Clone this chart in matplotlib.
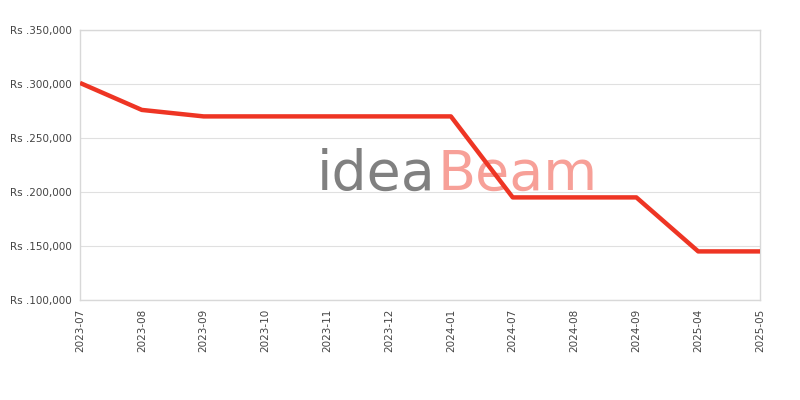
import matplotlib.pyplot as plt

months = ['2023-07', '2023-08', '2023-09', '2023-10', '2023-11', '2023-12',
          '2024-01', '2024-07', '2024-08', '2024-09', '2025-04', '2025-05']
prices = [301000, 276000, 270000, 270000, 270000, 270000,
          270000, 195000, 195000, 195000, 145000, 145000]
y_ticks = [100000, 150000, 200000, 250000, 300000, 350000]

fig = plt.figure(figsize=(8, 4), dpi=100)
ax = fig.add_axes([0.1, 0.25, 0.85, 0.675])

ax.plot(range(len(months)), prices, color='#ee3524', linewidth=3.2, solid_capstyle='butt', zorder=3)

ax.set_xlim(0, len(months) - 1)
ax.set_ylim(100000, 350000)
ax.set_xticks(range(len(months)))
ax.set_xticklabels(months, rotation=90, fontsize=7.5, color='#444444')
ax.set_yticks(y_ticks)
ax.set_yticklabels(['Rs .{:,}'.format(v) for v in y_ticks], fontsize=7.5, color='#444444')
ax.tick_params(length=0, pad=6)
ax.grid(axis='y', color='#e0e0e0', linewidth=0.8)
ax.set_axisbelow(True)
for s in ax.spines.values():
    s.set_color('#d8d8d8')
    s.set_linewidth(1)

# watermark (behind the line)
wm = dict(fontsize=40, va='baseline', transform=ax.transAxes, zorder=2)
ax.text(0.523, 0.407, 'idea', color='#808080', ha='right', **wm)
ax.text(0.526, 0.407, 'Beam', color='#f7a098', ha='left', **wm)

fig.savefig('out.png', dpi=100)
